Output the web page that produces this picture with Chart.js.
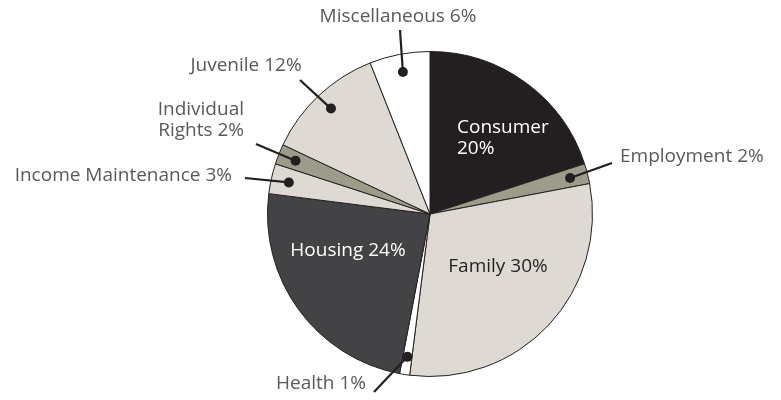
<!DOCTYPE html>
<html><head><meta charset="utf-8">
<script src="https://cdn.jsdelivr.net/npm/chart.js@4.4.0/dist/chart.umd.min.js"></script>
<style>html,body{margin:0;padding:0;background:#fff}#wrap{width:781px;height:400px}</style>
</head><body><div id="wrap"><canvas id="c" width="781" height="400"></canvas></div>
<script>
const categories = ["Consumer","Employment","Family","Health","Housing","Income Maintenance","Individual Rights","Juvenile","Miscellaneous"];
const values = [20,2,30,1,24,3,2,12,6];
const labelTexts = [["Consumer","20%"],["Employment 2%"],["Family 30%"],["Health 1%"],["Housing 24%"],["Income Maintenance 3%"],["Individual","Rights 2%"],["Juvenile 12%"],["Miscellaneous 6%"]];
const colors = ["#231f20","#9d9c8a","#dedad3","#ffffff","#434244","#dedad3","#9d9c8a","#dedad3","#ffffff"];

// layout for labels (positions only)
const layoutCfg = [
  {inside:true, x:457, y:128, color:"#ffffff", align:"left"},
  {x:620, y:157, align:"left", lx:612, ly:163},
  {inside:true, x:498, y:267, color:"#231f20", align:"center"},
  {x:321, y:384, align:"center", lx:374, ly:392},
  {inside:true, x:348, y:251, color:"#ffffff", align:"center"},
  {x:232, y:176, align:"right", lx:245, ly:178},
  {x:244, y:110, align:"right", lx:256, ly:144},
  {x:246, y:66, align:"center", lx:300, ly:80},
  {x:398, y:17, align:"center", lx:400, ly:30}
];
const lineH = 21;
const FONT = "19px 'Open Sans', sans-serif";

const labelPlugin = {
  id:'labels',
  afterDatasetsDraw(chart){
    const ctx = chart.ctx;
    const meta = chart.getDatasetMeta(0);
    ctx.save();
    ctx.font = FONT;
    ctx.textBaseline = 'middle';
    meta.data.forEach((arc,i)=>{
      const cfg = layoutCfg[i];
      const lines = labelTexts[i];
      if(!cfg.inside){
        const p = arc.getProps(['x','y','startAngle','endAngle','outerRadius'],true);
        const mid = (p.startAngle+p.endAngle)/2;
        const r = p.outerRadius*0.89;
        const dx = p.x + Math.cos(mid)*r, dy = p.y + Math.sin(mid)*r;
        ctx.strokeStyle = '#231f20'; ctx.lineWidth = 2.2;
        ctx.beginPath(); ctx.moveTo(cfg.lx,cfg.ly); ctx.lineTo(dx,dy); ctx.stroke();
        ctx.fillStyle = '#231f20';
        ctx.beginPath(); ctx.arc(dx,dy,5,0,Math.PI*2); ctx.fill();
      }
      ctx.fillStyle = cfg.color || '#58595b';
      ctx.textAlign = cfg.align;
      lines.forEach((t,j)=>ctx.fillText(t,cfg.x,cfg.y+j*lineH));
    });
    ctx.restore();
  }
};

new Chart(document.getElementById('c'),{
  type:'pie',
  data:{labels:categories,datasets:[{data:values,backgroundColor:colors,borderColor:'#231f20',borderWidth:1}]},
  options:{
    responsive:false,animation:false,
    layout:{padding:{left:267,right:188,top:51,bottom:23}},
    plugins:{legend:{display:false},tooltip:{enabled:false}}
  },
  plugins:[labelPlugin]
});
</script></body></html>
